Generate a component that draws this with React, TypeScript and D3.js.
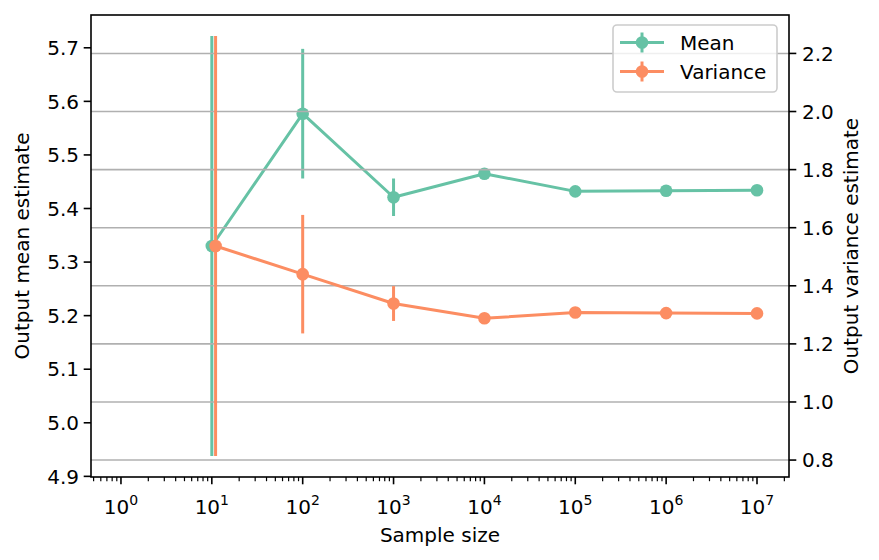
import React, { useEffect } from 'react';
import * as d3 from 'd3';

// sample sizes and estimates
const sizes = [10, 100, 1000, 1e4, 1e5, 1e6, 1e7];
const varianceSizes = [11, 100, 1000, 1e4, 1e5, 1e6, 1e7];

const meanValues = [5.33, 5.577, 5.421, 5.465, 5.432, 5.433, 5.434];
const meanErrors = [0.392, 0.121, 0.035, 0.004, 0.002, 0.001, 0.001];

const varianceValues = [1.537, 1.44, 1.339, 1.288, 1.308, 1.306, 1.305];
const varianceErrors = [0.723, 0.204, 0.06, 0.008, 0.004, 0.002, 0.001];

const meanTicks = [4.9, 5.0, 5.1, 5.2, 5.3, 5.4, 5.5, 5.6, 5.7];
const varianceTicks = [0.8, 1.0, 1.2, 1.4, 1.6, 1.8, 2.0, 2.2];
const decadeTicks = [0, 1, 2, 3, 4, 5, 6, 7];

const GREEN = '#66c2a5';
const ORANGE = '#fc8d62';
const FONT = 'DejaVu Sans, sans-serif';

const W = 879;
const H = 560;
const m = { left: 91, right: 789, top: 15, bottom: 477 };

// matplotlib-style autoscale: data extent (incl. error bars) plus 5% margin
function padded(vals: number[], errs: number[]): [number, number] {
  const lo = d3.min(vals, (v, i) => v - errs[i])!;
  const hi = d3.max(vals, (v, i) => v + errs[i])!;
  const pad = (hi - lo) * 0.05;
  return [lo - pad, hi + pad];
}

const App: React.FC = () => {
  useEffect(() => {
    document.body.style.margin = '0';
  }, []);

  const x = d3.scaleLog().domain([0.468, 2.25e7]).range([m.left, m.right]);
  const yMean = d3.scaleLinear().domain(padded(meanValues, meanErrors)).range([m.bottom, m.top]);
  const yVar = d3.scaleLinear().domain(padded(varianceValues, varianceErrors)).range([m.bottom, m.top]);

  const minorTicks: number[] = [];
  for (let e = -1; e <= 7; e++) {
    for (let k = 2; k <= 9; k++) {
      const v = k * Math.pow(10, e);
      if (v >= x.domain()[0] && v <= x.domain()[1]) minorTicks.push(v);
    }
  }

  const meanLine = d3.line<number>().x((_, i) => x(sizes[i])).y((d) => yMean(d));
  const varLine = d3.line<number>().x((_, i) => x(varianceSizes[i])).y((d) => yVar(d));

  const series = (
    xs: number[],
    vals: number[],
    errs: number[],
    y: d3.ScaleLinear<number, number>,
    line: d3.Line<number>,
    color: string
  ) => (
    <g>
      <path d={line(vals) || ''} fill="none" stroke={color} strokeWidth={3} strokeLinejoin="round" />
      {vals.map((v, i) => (
        <line key={'e' + i} x1={x(xs[i])} x2={x(xs[i])} y1={y(v - errs[i])} y2={y(v + errs[i])}
          stroke={color} strokeWidth={3} />
      ))}
      {vals.map((v, i) => (
        <circle key={'c' + i} cx={x(xs[i])} cy={y(v)} r={6.3} fill={color} />
      ))}
    </g>
  );

  return (
    <svg width={W} height={H} style={{ position: 'absolute', left: 0, top: 0, background: '#fff' }}
      fontFamily={FONT}>
      {/* mean series on the primary axis */}
      {series(sizes, meanValues, meanErrors, yMean, meanLine, GREEN)}

      {/* grid from the secondary axis */}
      {varianceTicks.map((t) => (
        <line key={t} x1={m.left} x2={m.right} y1={yVar(t)} y2={yVar(t)} stroke="#b0b0b0" strokeWidth={1.6} />
      ))}

      {/* variance series on the twin axis */}
      {series(varianceSizes, varianceValues, varianceErrors, yVar, varLine, ORANGE)}

      {/* frame */}
      <rect x={m.left} y={m.top} width={m.right - m.left} height={m.bottom - m.top}
        fill="none" stroke="#000" strokeWidth={1.6} />

      {/* x axis */}
      {minorTicks.map((t, i) => (
        <line key={'mn' + i} x1={x(t)} x2={x(t)} y1={m.bottom} y2={m.bottom + 4.2} stroke="#000" strokeWidth={1.2} />
      ))}
      {decadeTicks.map((e) => {
        const px = x(Math.pow(10, e));
        return (
          <g key={'mj' + e}>
            <line x1={px} x2={px} y1={m.bottom} y2={m.bottom + 7.3} stroke="#000" strokeWidth={1.6} />
            <text x={px} y={514} textAnchor="middle" fontSize={20} fill="#000">
              10<tspan fontSize={14} dy={-9}>{e}</tspan>
            </text>
          </g>
        );
      })}
      <text x={(m.left + m.right) / 2} y={542} textAnchor="middle" fontSize={20}>Sample size</text>

      {/* left axis */}
      {meanTicks.map((t) => (
        <g key={'l' + t}>
          <line x1={m.left - 7.3} x2={m.left} y1={yMean(t)} y2={yMean(t)} stroke="#000" strokeWidth={1.6} />
          <text x={m.left - 12} y={yMean(t)} dy="0.36em" textAnchor="end" fontSize={20}>{t.toFixed(1)}</text>
        </g>
      ))}
      <text transform={`translate(29, ${(m.top + m.bottom) / 2}) rotate(-90)`} textAnchor="middle" fontSize={20}>
        Output mean estimate
      </text>

      {/* right axis */}
      {varianceTicks.map((t) => (
        <g key={'r' + t}>
          <line x1={m.right} x2={m.right + 7.3} y1={yVar(t)} y2={yVar(t)} stroke="#000" strokeWidth={1.6} />
          <text x={m.right + 13} y={yVar(t)} dy="0.36em" textAnchor="start" fontSize={20}>{t.toFixed(1)}</text>
        </g>
      ))}
      <text transform={`translate(858, ${(m.top + m.bottom) / 2}) rotate(-90)`} textAnchor="middle" fontSize={20}>
        Output variance estimate
      </text>

      {/* legend */}
      <g>
        <rect x={613} y={25} width={164} height={67} rx={4} fill="#fff" fillOpacity={0.8}
          stroke="#cccccc" strokeWidth={1.6} />
        {[
          { label: 'Mean', color: GREEN, cy: 42.5 },
          { label: 'Variance', color: ORANGE, cy: 71.5 },
        ].map((d) => (
          <g key={d.label}>
            <line x1={620} x2={664} y1={d.cy} y2={d.cy} stroke={d.color} strokeWidth={3} />
            <line x1={642} x2={642} y1={d.cy - 10} y2={d.cy + 10} stroke={d.color} strokeWidth={3} />
            <circle cx={642} cy={d.cy} r={6.3} fill={d.color} />
            <text x={680} y={d.cy} dy="0.36em" fontSize={20}>{d.label}</text>
          </g>
        ))}
      </g>
    </svg>
  );
};

export default App;
